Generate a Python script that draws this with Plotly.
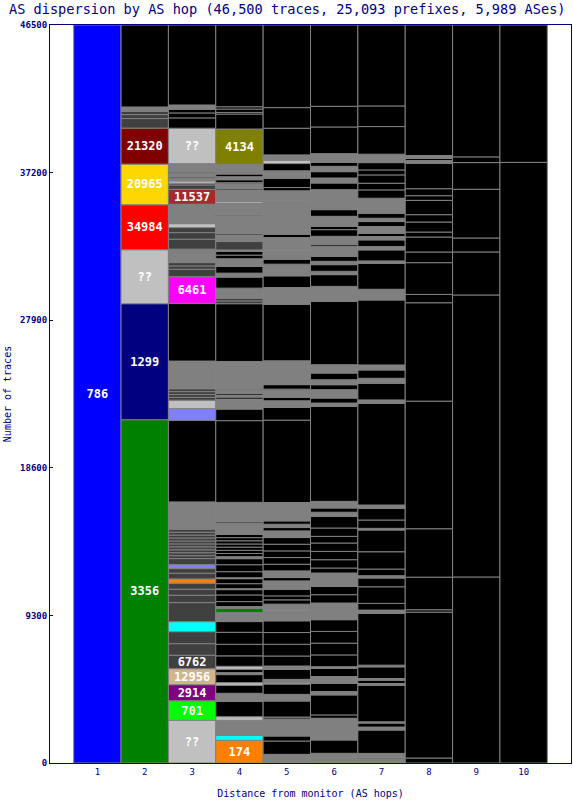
import plotly.graph_objects as go

TOTAL_TRACES = 46500
K, G, D, L = "#000000", "#808080", "#404040", "#c0c0c0"

hop_numbers = [1, 2, 3, 4, 5, 6, 7, 8, 9, 10]
y_tick_values = [0, 9300, 18600, 27900, 37200, 46500]
x_tick_labels = ["1", "2", "3", "4", "5", "6", "7", "8", "9", "10"]

# (traces, colour, label) from the bottom of each hop column upward
hop1 = [(46500, "#0000ff", "786")]

hop2 = [(21630, "#008000", "3356"), (7310, "#000080", "1299"), (3400, L, "??"),
        (2835, "#ff0000", "34984"), (2560, "#ffd700", "20965"), (2270, "#800000", "21320"),
        (600, D), (250, D), (210, D), (270, G)]

hop3 = [(2690, L, "??"), (1235, "#00ff00", "701"), (1010, "#800080", "2914"),
        (1010, "#d2b48c", "12956"), (845, D, "6762"), (730, D), (755, D), (630, "#00ffff"),
        (1200, D), (465, D), (380, D), (380, D), (270, "#ff8000"), (360, D), (290, D),
        (250, "#8080ff"), (380, D),
        (185, D), (185, D), (185, D), (185, D), (185, D), (185, D), (185, D), (185, D), (185, D), (185, D),
        (1720, G), (5150, K), (730, "#8080ff"), (530, L), (180, D), (180, D), (180, D), (180, D),
        (1745, G), (3640, K), (1680, "#ff00ff", "6461"), (465, D), (210, D), (210, D),
        (420, G), (425, G), (630, D), (415, D), (315, D), (250, L), (275, G), (945, G),
        (945, "#a52a2a", "11537"), (270, D), (110, D), (145, L), (145, G), (105, D), (235, G),
        (80, D), (525, G), (2230, L, "??"), (650, K), (315, K), (230, K), (270, G)]

hop4 = [(1430, "#ff8000", "174"), (315, "#00ffff"), (945, G), (230, L), (965, K), (505, G),
        (505, K), (170, L), (505, K), (125, G), (210, K), (190, L), (655, K), (730, K), (755, K),
        (675, K), (315, G), (250, G), (270, "#008000"), (110, G), (315, K), (420, K), (335, K),
        (60, L), (315, K), (315, K), (60, L), (380, K), (440, K), (380, K), (125, G),
        (200, K), (200, K), (200, K), (200, K), (200, K), (200, K), (200, K),
        (700, G), (90, K), (1230, G), (5150, K), (730, K), (630, G), (125, K), (125, G), (105, K),
        (190, G), (80, K), (1745, G), (3640, K), (175, D), (175, D), (630, G), (695, K), (250, G),
        (420, K), (485, G), (230, K), (230, K), (100, G), (525, D), (420, G), (80, K), (440, G),
        (690, G), (60, K), (610, G), (100, G), (110, L), (740, G), (80, K), (315, G), (60, K),
        (190, K), (190, G), (170, K), (605, G), (2230, "#808000", "4134"), (945, K), (100, K),
        (215, K), (145, K)]

hop5 = [(60, L), (485, G), (840, K), (315, K), (1050, G), (145, D), (1010, K), (420, G), (650, K),
        (80, L), (215, G), (630, K), (210, G), (630, K), (740, K), (740, K), (740, K), (630, G),
        (60, L), (360, G), (270, K), (250, K), (420, K), (315, G), (210, G), (210, K), (420, G),
        (420, K), (420, K), (420, K), (420, K), (420, K), (420, G),
        (210, K), (210, G), (210, K), (210, G), (945, G), (5195, K), (795, K), (420, G), (210, K),
        (210, G), (315, G), (285, K), (285, G), (1215, G), (3570, K), (315, G), (730, G), (740, K),
        (315, G), (420, G), (315, K), (525, G), (60, L), (775, G), (210, K), (420, G), (1160, G),
        (525, G), (630, G), (210, K), (590, K), (460, G), (460, K), (210, L), (335, G), (1680, K),
        (1300, K)]

hop6 = [(610, G), (840, K), (315, G), (360, G), (695, G), (210, K), (1260, K), (210, G), (525, K),
        (420, G), (525, K), (100, G), (740, K), (740, K), (740, K), (740, K), (440, G), (610, G),
        (525, K), (525, K), (525, G), (315, G), (315, K), (525, K), (525, K), (525, K), (420, K),
        (525, K), (735, K), (260, G), (265, K), (420, G), (5985, K), (210, G), (315, K), (525, G),
        (315, K), (315, G), (420, K), (315, G), (210, G), (3990, K), (315, G), (630, G), (740, K),
        (210, G), (420, K), (210, G), (315, K), (630, G), (105, K), (525, G), (420, K), (210, K),
        (630, G), (420, K), (840, G), (420, G), (420, K), (315, G), (400, K), (335, G), (250, K),
        (550, G), (1680, K), (1300, K)]

hop7 = [(250, G), (60, K), (295, G), (1470, K), (190, G), (250, K), (80, G), (2310, K), (105, G),
        (210, K), (105, G), (735, K), (105, G), (3260, K), (210, G), (420, K), (1050, K), (550, K),
        (145, G), (420, K), (1090, K), (1370, K), (105, G), (525, K), (735, K), (210, G), (6410, K),
        (210, G), (1050, K), (315, G), (525, K), (315, G), (4095, K), (440, G), (235, G), (1640, K),
        (145, G), (695, K), (210, G), (420, K), (210, G), (210, K), (420, G), (315, K), (210, G),
        (315, K), (945, G), (525, K), (420, K), (525, K), (315, K), (460, K), (530, G), (1740, K),
        (1300, K)]

hop8 = [(315, K), (9190, K), (150, K), (2055, K), (3050, K), (8040, K), (6200, K), (525, K),
        (2000, K), (670, K), (945, K), (315, K), (630, K), (465, K), (900, K), (295, K), (440, K),
        (1610, K), (170, G), (125, K), (190, G)]

hop9 = [(11720, K), (17770, K), (2710, K), (880, K), (3070, K), (1680, K), (360, K)]

hop10 = [(37845, K)]

hops = [hop1, hop2, hop3, hop4, hop5, hop6, hop7, hop8, hop9, hop10]

xs, heights, bases, colors, texts = [], [], [], [], []
for hop, segments in zip(hop_numbers, hops):
    base = 0
    for seg in segments:
        xs.append(hop)
        heights.append(seg[0])
        bases.append(base)
        colors.append(seg[1])
        texts.append(seg[2] if len(seg) > 2 else "")
        base += seg[0]
    rest = TOTAL_TRACES - base
    if rest > 0:
        xs.append(hop)
        heights.append(rest)
        bases.append(base)
        colors.append(K)
        texts.append("")

NAVY = "#000080"
MONO = "DejaVu Sans Mono"

fig = go.Figure(go.Bar(
    x=xs, y=heights, base=bases, width=1,
    marker=dict(color=colors, line=dict(color=G, width=1)),
    text=texts, textposition="inside", insidetextanchor="middle", textangle=0,
    textfont=dict(family=MONO, size=12, color="white", weight="bold"),
    hoverinfo="skip",
))

fig.update_layout(
    width=573, height=800,
    autosize=False,
    margin=dict(l=50, r=1, t=25, b=37),
    paper_bgcolor="white", plot_bgcolor="white",
    showlegend=False,
    uniformtext=dict(minsize=12, mode="show"),
    title=dict(text="AS dispersion by AS hop (46,500 traces, 25,093 prefixes, 5,989 ASes)",
               x=9 / 573, xanchor="left", xref="container",
               y=1 - 9 / 800, yanchor="middle", yref="container",
               font=dict(family=MONO, size=13.6, color=NAVY)),
    xaxis=dict(range=[0, 11], tickmode="array", tickvals=hop_numbers, ticktext=x_tick_labels,
               showgrid=False, zeroline=False, ticks="",
               showline=True, linecolor=NAVY, linewidth=1, mirror=True,
               tickfont=dict(family=MONO, size=9, color=NAVY),
               title=dict(text="Distance from monitor (AS hops)", standoff=14,
                          font=dict(family=MONO, size=10, color=NAVY))),
    yaxis=dict(range=[0, TOTAL_TRACES], tickmode="array", tickvals=y_tick_values,
               ticktext=[str(v) for v in y_tick_values],
               showgrid=False, zeroline=False, ticks="inside", ticklen=3, tickcolor=NAVY,
               showline=True, linecolor=NAVY, linewidth=1, mirror=True,
               tickfont=dict(family=MONO, size=9, color=NAVY, weight="bold"),
               title=dict(text="Number of traces", standoff=6,
                          font=dict(family=MONO, size=10, color=NAVY))),
)

post = ("document.documentElement.style.margin='0';document.body.style.margin='0';"
        "document.body.style.padding='0';document.body.style.overflow='hidden';"
        "Plotly.relayout('{plot_id}', {width: 573, height: 800});")

fig.write_html("out.html", config={"responsive": False, "displayModeBar": False},
               post_script=post)
